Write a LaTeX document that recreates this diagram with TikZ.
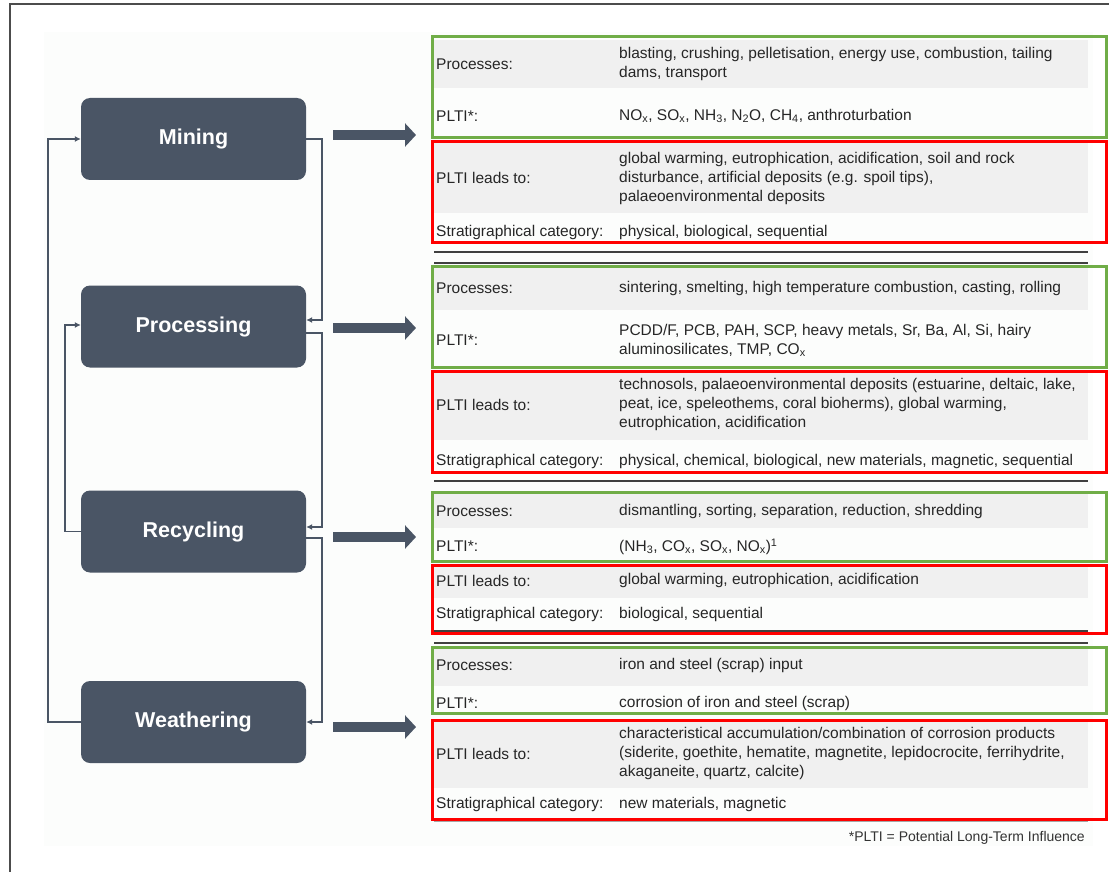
\documentclass[tikz,border=0pt]{standalone}
\usepackage{fontspec}
\setmainfont{Liberation Sans}
\usetikzlibrary{arrows.meta}
\definecolor{slate}{HTML}{4A5565}
\definecolor{rowgray}{HTML}{F0F0F0}
\definecolor{boxgreen}{HTML}{70AD47}
\definecolor{boxred}{HTML}{FF0000}
\definecolor{panel}{HTML}{FCFDFC}

\begin{document}
\begin{tikzpicture}[x=1pt,y=-1pt,
  stage/.style={rectangle,rounded corners=9pt,fill=slate,text=white,
    font=\fontsize{21.5}{25}\selectfont\bfseries,minimum width=225pt,minimum height=82pt},
  link/.style={draw=slate,line width=1.5pt,-{Latex[length=6pt,width=6pt]}},
  bigarrow/.style={draw=slate,line width=10pt,-{Triangle[length=11pt,width=23pt]}},
  lbl/.style={anchor=west,inner sep=0pt,text=black!85,font=\fontsize{15.5}{19}\selectfont},
  val/.style={anchor=west,inner sep=0pt,align=left,text=black!85,font=\fontsize{15.5}{19}\selectfont},
  grn/.style={draw=boxgreen,line width=3pt},
  rd/.style={draw=boxred,line width=3pt},
  rule/.style={draw=black!75,line width=2.4pt}]
\useasboundingbox (0,0) rectangle (1109,872);
\draw[black!70,line width=1.2pt] (10,872) -- (10,4) -- (1109,4);
\fill[panel] (44,32) rectangle (1093,846);

% stages
\node[stage] (mining) at (193.5,139) {Mining};
\node[stage] (processing) at (193.5,326.5) {Processing};
\node[stage] (recycling) at (193.5,531.5) {Recycling};
\node[stage] (weathering) at (193.5,722) {Weathering};

\draw[link] (weathering.west) -- ++(-33,0) |- (mining.west);
\draw[link] (mining.east) -- ++(16,0) |- ([yshift=6.5pt]processing.east);
\draw[link] ([yshift=-6.5pt]processing.east) -- ++(16,0) |- ([yshift=4.5pt]recycling.east);
\draw[link] ([yshift=-6.5pt]recycling.east) -- ++(16,0) |- (weathering.east);
\draw[link] (recycling.west) -- ++(-16,0) |- ([yshift=1.5pt]processing.west);

\coordinate (t1) at (416,135);
\coordinate (t2) at (416,328);
\coordinate (t3) at (416,537);
\coordinate (t4) at (416,727);
\draw[bigarrow] ([xshift=27pt]mining.east |- t1) -- (t1);
\draw[bigarrow] ([xshift=27pt]processing.east |- t2) -- (t2);
\draw[bigarrow] ([xshift=27pt]recycling.east |- t3) -- (t3);
\draw[bigarrow] ([xshift=27pt]weathering.east |- t4) -- (t4);

% mining table
\fill[rowgray] (434,40) rectangle (1088,88);
\fill[rowgray] (434,143) rectangle (1088,213);
\node[lbl] (p1) at (436,64) {Processes:};
\node[val] (pv1) at (619,64) {blasting, crushing, pelletisation, energy use, combustion, tailing\\dams, transport};
\node[lbl] (e1) at (436,116) {PLTI*:};
\node[val] (ev1) at (619,116) {NO\textsubscript{x}, SO\textsubscript{x}, NH\textsubscript{3}, N\textsubscript{2}O, CH\textsubscript{4}, anthroturbation};
\node[lbl] (l1) at (436,178) {PLTI leads to:};
\node[val] (lv1) at (619,178) {global warming, eutrophication, acidification, soil and rock\\disturbance, artificial deposits (e.g. spoil tips),\\palaeoenvironmental deposits};
\node[lbl] (s1) at (436,232.5) {Stratigraphical category:};
\node[val] (sv1) at (619,232.5) {physical, biological, sequential};
\draw[grn] (432,37) rectangle (1106,138);
\draw[rd] (432,142) rectangle (1106,242);
\draw[rule] (434,252) -- (1088,252);

% processing table
\draw[rule] (434,263) -- (1088,263);
\fill[rowgray] (434,268) rectangle (1088,310);
\fill[rowgray] (434,372) rectangle (1088,440);
\node[lbl] (p2) at (436,288.5) {Processes:};
\node[val] (pv2) at (619,288.5) {sintering, smelting, high temperature combustion, casting, rolling};
\node[lbl] (e2) at (436,340) {PLTI*:};
\node[val] (ev2) at (619,340) {PCDD/F, PCB, PAH, SCP, heavy metals, Sr, Ba, Al, Si, hairy\\aluminosilicates, TMP, CO\textsubscript{x}};
\node[lbl] (l2) at (436,404.5) {PLTI leads to:};
\node[val] (lv2) at (619,404.5) {technosols, palaeoenvironmental deposits (estuarine, deltaic, lake,\\peat, ice, speleothems, coral bioherms), global warming,\\eutrophication, acidification};
\node[lbl] (s2) at (436,461.5) {Stratigraphical category:};
\node[val] (sv2) at (619,461.5) {physical, chemical, biological, new materials, magnetic, sequential};
\draw[grn] (432,266) rectangle (1106,367);
\draw[rd] (432,371) rectangle (1106,472);
\draw[rule] (434,481) -- (1088,481);

% recycling table
\fill[rowgray] (434,494) rectangle (1088,528);
\fill[rowgray] (434,566) rectangle (1088,598);
\node[lbl] (p3) at (436,511.5) {Processes:};
\node[val] (pv3) at (619,511.5) {dismantling, sorting, separation, reduction, shredding};
\node[lbl] (e3) at (436,546.5) {PLTI*:};
\node[val] (ev3) at (619,546.5) {(NH\textsubscript{3}, CO\textsubscript{x}, SO\textsubscript{x}, NO\textsubscript{x})\textsuperscript{1}};
\node[lbl] (l3) at (436,580.5) {PLTI leads to:};
\node[val] (lv3) at (619,580.5) {global warming, eutrophication, acidification};
\node[lbl] (s3) at (436,614.5) {Stratigraphical category:};
\node[val] (sv3) at (619,614.5) {biological, sequential};
\draw[rule] (434,631) -- (1088,631);
\draw[grn] (432,492) rectangle (1106,561);
\draw[rd] (432,565) rectangle (1106,633);
\draw[rule] (434,643) -- (1088,643);

% weathering table
\fill[rowgray] (434,649) rectangle (1088,686);
\fill[rowgray] (434,722) rectangle (1088,788);
\node[lbl] (p4) at (436,665.5) {Processes:};
\node[val] (pv4) at (619,665.5) {iron and steel (scrap) input};
\node[lbl] (e4) at (436,703.5) {PLTI*:};
\node[val] (ev4) at (619,703.5) {corrosion of iron and steel (scrap)};
\node[lbl] (l4) at (436,753.5) {PLTI leads to:};
\node[val] (lv4) at (619,753.5) {characteristical accumulation/combination of corrosion products\\(siderite, goethite, hematite, magnetite, lepidocrocite, ferrihydrite,\\akaganeite, quartz, calcite)};
\node[lbl] (s4) at (436,804.5) {Stratigraphical category:};
\node[val] (sv4) at (619,804.5) {new materials, magnetic};
\draw[black!35,line width=1pt] (434,821) -- (1088,821);
\draw[grn] (432,647) rectangle (1106,713);
\draw[rd] (432,720) rectangle (1106,819);

\node[anchor=east,inner sep=0pt,text=black!80,font=\fontsize{14}{16}\selectfont] (note) at (1085,838) {*PLTI = Potential Long-Term Influence};
\end{tikzpicture}
\end{document}
